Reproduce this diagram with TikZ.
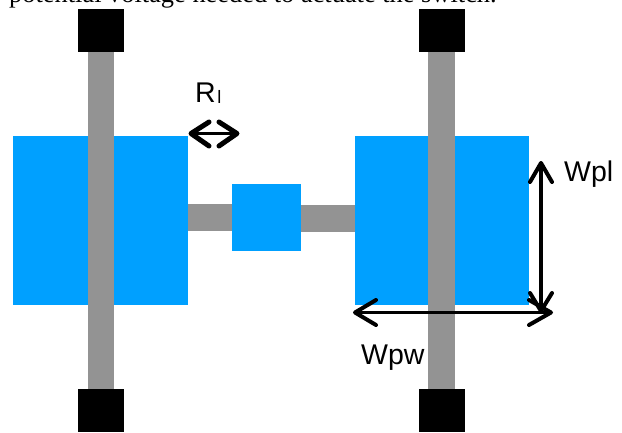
\documentclass[tikz,border=0pt]{standalone}
\usepackage{fontspec}
\setmainfont{Liberation Sans}
\newfontfamily\serifcap{Liberation Serif}
\definecolor{blockblue}{RGB}{0,160,255}
\definecolor{bargray}{RGB}{147,147,147}
\tikzset{
 px/.style={x=1pt,y=-1pt},
 blue block/.style={fill=blockblue,draw=none},
 bar/.style={fill=bargray,draw=none},
 pad/.style={fill=black,draw=none},
 shaft/.style={draw=black,line width=3.2pt,line cap=round},
 thin shaft/.style={draw=black,line width=2.2pt,line cap=round},
 head/.style={draw=black,line width=4pt,line cap=round,line join=round},
 heavy head/.style={draw=black,line width=5pt,line cap=round,line join=round},
 lab/.style={font=\fontsize{28.5}{28.5}\selectfont,inner sep=0pt,anchor=base west}
}
\begin{document}
\begin{tikzpicture}[px]
\useasboundingbox (0,0) rectangle (622,432);
\fill[white] (0,0) rectangle (622,432);
\node[anchor=base west,inner sep=0pt,font=\serifcap\fontsize{26.4}{26.4}\selectfont] (cap) at (9,2) {potential voltage needed to actuate the switch.};
\fill[bar] (188,204) rectangle (232,231);
\fill[bar] (300,205) rectangle (355,232);
\fill[blue block] (13,136) rectangle (188,305);
\fill[blue block] (355,136) rectangle (529,305);
\fill[blue block] (232,184) rectangle (301,251);
\fill[bar] (88,50) rectangle (114,390);
\fill[bar] (428,50) rectangle (455,390);
\fill[pad] (78,9) rectangle (124,52);
\fill[pad] (419,9) rectangle (465,52);
\fill[pad] (78,389) rectangle (124,432);
\fill[pad] (419,389) rectangle (465,432);
\coordinate (rl) at (191,133.5); \coordinate (rr) at (237,133.5);
\draw[thin shaft] (rl) -- (rr);
\draw[heavy head] (209,122) -- (rl) -- (209,146);
\draw[heavy head] (219,122) -- (rr) -- (219,146);
\coordinate (wt) at (541,163); \coordinate (wb) at (541,311);
\draw[shaft] (wt) -- (wb);
\draw[head] (530,182) -- (wt) -- (552,182);
\draw[head] (530,293) -- (wb) -- (552,293);
\coordinate (hl) at (355,312.5); \coordinate (hr) at (551,312.5);
\draw[shaft] (hl) -- (hr);
\draw[head] (376,300) -- (hl) -- (376,325);
\draw[head] (529,300) -- (hr) -- (529,325);
\node[lab] (r) at (195,102) {R\hspace{1.5pt}\raisebox{-1pt}{\fontsize{18}{18}\selectfont l}};
\node[lab] (wpl) at (564,181) {Wpl};
\node[lab] (wpw) at (361,364) {Wpw};
\end{tikzpicture}
\end{document}
